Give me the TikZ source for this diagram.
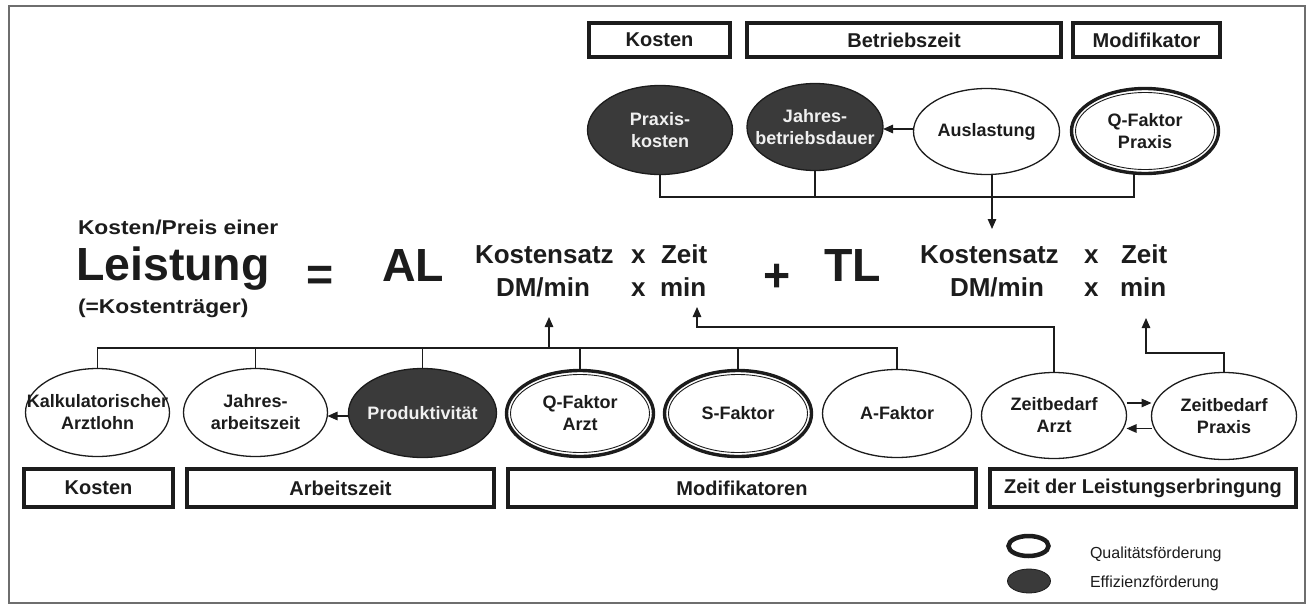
\documentclass[tikz,border=0pt]{standalone}
\usepackage{fontspec}
\usepackage{graphicx}
\setmainfont{Liberation Sans}
\usetikzlibrary{arrows.meta,shapes.geometric,calc}
\definecolor{ink}{HTML}{1C1C1C}
\definecolor{darkfill}{HTML}{3A3A3A}
\definecolor{framec}{HTML}{6E6E6E}
\definecolor{lighttext}{HTML}{F0F0F0}
\begin{document}
\begin{tikzpicture}[x=1pt,y=-1pt,
  every node/.style={inner sep=0pt,outer sep=0pt,text=ink},
  ell/.style={ellipse,draw=ink,line width=1.3pt,inner sep=-40pt,align=center,
    font=\fontsize{18}{22}\selectfont\bfseries},
  dark/.style={ell,fill=darkfill,text=lighttext},
  dbl/.style={ell,line width=3.4pt,
    path picture={\draw[ink,line width=0.9pt]
      let \p1=($(path picture bounding box.north east)-(path picture bounding box.center)$) in
      (path picture bounding box.center) ellipse [x radius=\x1-4pt, y radius=\y1-4pt];}},
  box/.style={draw=ink,line width=3.6pt,font=\fontsize{20}{24}\selectfont\bfseries},
  eqs/.style={anchor=base west,font=\fontsize{26}{30}\selectfont\bfseries},
  eqb/.style={anchor=base west,font=\fontsize{46.5}{50}\selectfont\bfseries},
  eqm/.style={anchor=base west,font=\fontsize{20}{24}\selectfont\bfseries},
  legt/.style={anchor=base west,font=\fontsize{16}{18}\selectfont},
  ln/.style={draw=ink,line width=1.3pt},
  arr/.style={ln,-{Triangle[length=10pt,width=8.5pt]}}]
\useasboundingbox (0,0) rectangle (1308,605);
\draw[framec,line width=1.2pt] (9,6) rectangle (1305,603);

% top boxes
\node[box,minimum width=141.5pt,minimum height=34.5pt] (tK) at (659.5,40) {Kosten};
\node[box,minimum width=314.5pt,minimum height=34.5pt] (tB) at (904,40) {Betriebszeit};
\node[box,minimum width=147.5pt,minimum height=34.5pt] (tM) at (1146.5,40) {Modifikator};

% top ellipses
\node[dark,minimum width=145pt,minimum height=89pt] (PK) at (660,130) {Praxis-\\kosten};
\node[dark,minimum width=136pt,minimum height=87pt] (JB) at (815,127) {Jahres-\\betriebsdauer};
\node[ell,minimum width=146pt,minimum height=86pt] (AU) at (986.5,131.5) {Auslastung};
\node[dbl,minimum width=147pt,minimum height=85pt] (QP) at (1145,131) {Q-Faktor\\Praxis};

% formula
\node[eqm] (kp) at (78,234) {\scalebox{1.14}[1]{Kosten/Preis einer}};
\node[eqb] (lei) at (76,280) {Leistung};
\node[eqm] (kt) at (78,313) {\scalebox{1.14}[1]{(=Kostenträger)}};
\node[eqb] (eq) at (306,290) {=};
\node[eqb] (AL) at (382,281) {AL};
\node[eqb] (plus) at (763,291) {+};
\node[eqb] (TL) at (824,281) {TL};
\node[eqs] (kL1) at (475,263) {Kostensatz};
\node[eqs] (xL1) at (631,263) {x};
\node[eqs] (zL1) at (661,263) {Zeit};
\node[eqs] (dL2) at (496,296) {DM/min};
\node[eqs] (xL2) at (631,296) {x};
\node[eqs] (mL2) at (660,296) {min};
\node[eqs] (kR1) at (920,263) {Kostensatz};
\node[eqs] (xR1) at (1084,263) {x};
\node[eqs] (zR1) at (1121,263) {Zeit};
\node[eqs] (dR2) at (950,296) {DM/min};
\node[eqs] (xR2) at (1084,296) {x};
\node[eqs] (mR2) at (1120,296) {min};

% bottom ellipses
\node[ell,minimum width=144pt,minimum height=88pt] (KA) at (97.5,412.5) {Kalkulatorischer\\Arztlohn};
\node[ell,minimum width=144pt,minimum height=88pt] (JA) at (255.5,412.5) {Jahres-\\arbeitszeit};
\node[dark,minimum width=148pt,minimum height=89pt] (PR) at (422.5,413) {Produktivität};
\node[dbl,minimum width=147pt,minimum height=86pt] (QA) at (580,413.5) {Q-Faktor\\Arzt};
\node[dbl,minimum width=147pt,minimum height=86pt] (SF) at (738,413.5) {S-Faktor};
\node[ell,minimum width=149pt,minimum height=88pt] (AF) at (897,413.5) {A-Faktor};
\node[ell,minimum width=145pt,minimum height=86pt] (ZA) at (1054,415.5) {Zeitbedarf\\Arzt};
\node[ell,minimum width=145pt,minimum height=87pt] (ZP) at (1224,416) {Zeitbedarf\\Praxis};

% bottom boxes
\node[box,minimum width=149.5pt,minimum height=38.5pt] (bK) at (98.5,488) {Kosten};
\node[box,minimum width=307.5pt,minimum height=38.5pt] (bA) at (340.5,488) {Arbeitszeit};
\node[box,minimum width=468.5pt,minimum height=38.5pt] (bM) at (742,488) {Modifikatoren};
\node[box,minimum width=306.5pt,minimum height=38.5pt] (bZ) at (1143,488) {Zeit der Leistungserbringung};

% legend
\node[ellipse,draw=ink,line width=4.5pt,minimum width=40pt,minimum height=20pt] (legQ) at (1028.5,546) {};
\node[ellipse,draw=ink,fill=darkfill,line width=0.8pt,minimum width=43pt,minimum height=24pt] (legE) at (1029,581) {};
\node[legt] (legQt) at (1090,558) {Qualitätsförderung};
\node[legt] (legEt) at (1090,587) {Effizienzförderung};

% coordinates
\coordinate (tbus) at (0,197);
\coordinate (qps) at ([xshift=-11pt]QP.south);
\coordinate (aus) at ([xshift=5.5pt]AU.south);
\coordinate (a4t) at (992,229);
\coordinate (bbus) at (0,348);
\coordinate (a1s) at (549,348);
\coordinate (a1t) at (549,317);
\coordinate (a2c) at (697,327);
\coordinate (a2t) at (697,307);
\coordinate (a3c) at (1146,353);
\coordinate (a3t) at (1146,318);

% top connectors
\draw[ln] (PK.south) -- (PK.south |- tbus) -- (qps |- tbus) -- (qps);
\draw[ln] (JB.south) -- (JB.south |- tbus);
\draw[arr] (aus) -- (a4t);
\draw[arr] ([yshift=2.5pt]AU.west) -- ([yshift=2.5pt]AU.west -| JB.east);

% bottom connectors
\draw[ln] (KA.north) -- (KA.north |- bbus) -- (AF.north |- bbus) -- (AF.north);
\draw[ln] (JA.north) -- (JA.north |- bbus);
\draw[ln] (PR.north) -- (PR.north |- bbus);
\draw[ln] (QA.north) -- (QA.north |- bbus);
\draw[ln] (SF.north) -- (SF.north |- bbus);
\draw[arr] (a1s) -- (a1t);
\draw[arr] ([yshift=-3pt]PR.west) -- ([yshift=-3pt]PR.west -| JA.east);
\draw[arr] (ZA.north) |- (a2c) -- (a2t);
\draw[arr] (ZP.north) |- (a3c) -- (a3t);
\draw[arr] ([yshift=12.5pt]ZA.east) -- ([yshift=12.5pt]ZA.east -| ZP.west);
\draw[arr] ([yshift=-12.5pt]ZP.west) -- ([yshift=-12.5pt]ZP.west -| ZA.east);
\end{tikzpicture}
\end{document}
